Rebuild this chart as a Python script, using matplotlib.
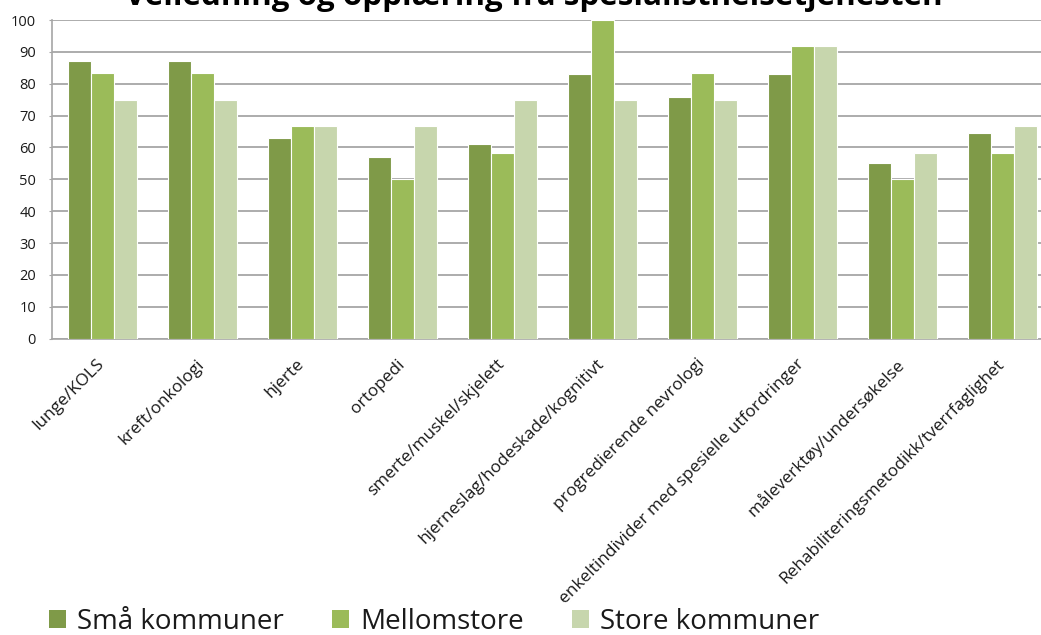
import numpy as np
import matplotlib.pyplot as plt
from matplotlib.patches import Patch

# Fagområder og andel (%) som har fått veiledning/opplæring
kategorier = [
    "lunge/KOLS",
    "kreft/onkologi",
    "hjerte",
    "ortopedi",
    "smerte/muskel/skjelett",
    "hjerneslag/hodeskade/kognitivt",
    "progredierende nevrologi",
    "enkeltindivider med spesielle utfordringer",
    "måleverktøy/undersøkelse",
    "Rehabiliteringsmetodikk/tverrfaglighet",
]
serier = ["Små kommuner", "Mellomstore", "Store kommuner"]
sma = [87.0, 87.0, 63.0, 57.1, 61.0, 83.0, 75.7, 83.0, 55.2, 64.6]
mellomstore = [83.3, 83.3, 66.7, 50.0, 58.3, 100.0, 83.3, 91.7, 50.0, 58.3]
store = [75.0, 75.0, 66.7, 66.7, 75.0, 75.0, 75.0, 91.7, 58.3, 66.7]

farger = ["#7F9A48", "#9BBB59", "#C7D6AD"]
tekst = "#1A1A1A"
grid_farge = "#A6A6A6"

plt.rcParams["font.family"] = ["Open Sans", "DejaVu Sans"]

fig = plt.figure(figsize=(10.41, 6.35), dpi=100)
# plottområdet går litt ut over høyre kant
ax = fig.add_axes([0.05, 0.4666, 0.9606, 0.5019])

x = np.arange(len(kategorier))
bredde = 0.23
for i, (verdier, navn) in enumerate(zip([sma, mellomstore, store], serier)):
    ax.bar(x + (i - 1) * bredde, verdier, bredde, color=farger[i],
           edgecolor="white", linewidth=0.8, label=navn, zorder=3)

ax.set_xlim(-0.5, 9.5)
ax.set_ylim(0, 100)
ax.set_yticks(np.arange(0, 101, 10))
ax.yaxis.grid(True, color=grid_farge, linewidth=1.3, zorder=0)
ax.set_axisbelow(True)

for s in ["top", "right"]:
    ax.spines[s].set_visible(False)
for s in ["left", "bottom"]:
    ax.spines[s].set_color(grid_farge)
    ax.spines[s].set_linewidth(1.2)

ax.tick_params(axis="y", length=2.5, color=grid_farge, pad=9,
               labelsize=10.5, labelcolor=tekst)
ax.tick_params(axis="x", length=0, pad=4)
ax.set_xticks(x)
ax.set_xticklabels(kategorier, rotation=45, ha="right", va="center",
                   rotation_mode="anchor", fontsize=12.4, color=tekst)
for lbl in ax.get_xticklabels():
    lbl.set_y(-0.055)

fig.text(0.513, 0.992, "Veiledning og opplæring fra spesialisthelsetjenesten",
         ha="center", va="baseline", fontsize=22.6, fontweight="bold", color="black")

handles = [Patch(facecolor=f, edgecolor="none") for f in farger]
fig.legend(handles, serier, loc="lower left", bbox_to_anchor=(0.023, -0.041),
           ncol=3, frameon=False, fontsize=20, handlelength=0.6,
           handleheight=0.62, handletextpad=0.4, columnspacing=1.75,
           labelcolor=tekst)

fig.savefig("out.png", dpi=100)
